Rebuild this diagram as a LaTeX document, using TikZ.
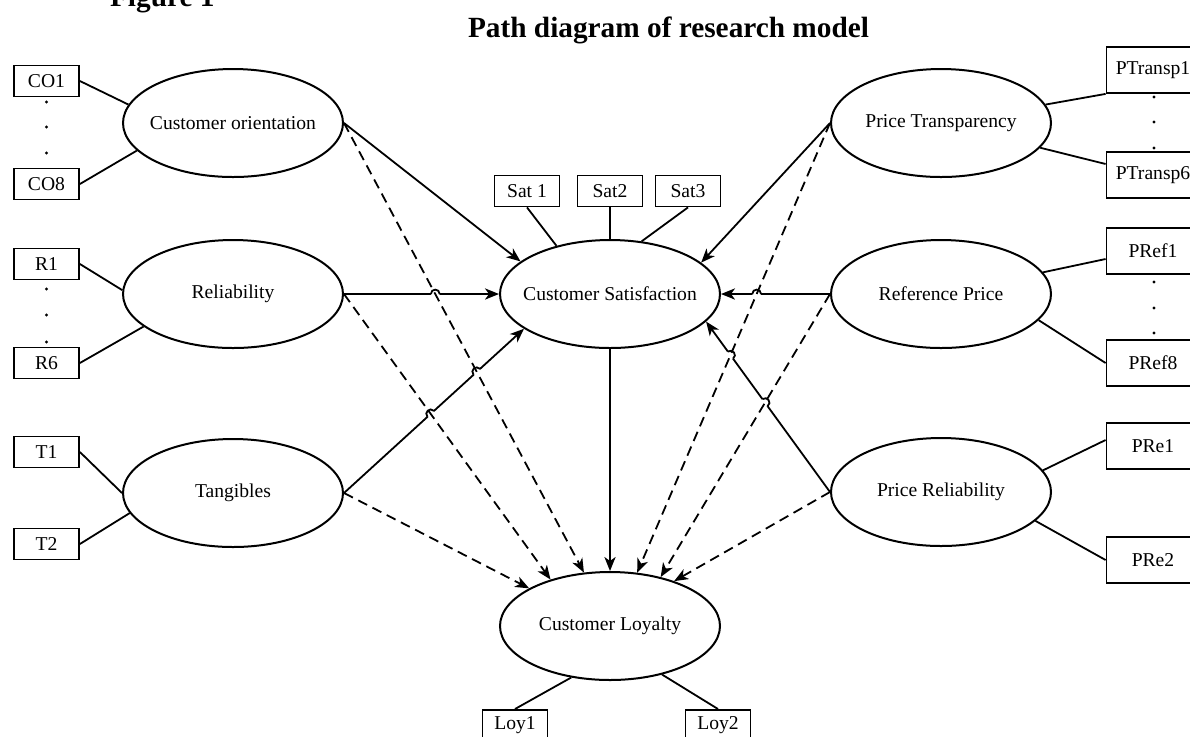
\documentclass[tikz,border=0pt]{standalone}
\usepackage{fontspec}
\setmainfont{Liberation Serif}
\usetikzlibrary{shapes.geometric,arrows.meta,calc,intersections}

\tikzset{
  latent/.style={ellipse, draw, line width=1pt, minimum width=110pt, minimum height=54pt, inner sep=0pt, font=\fontsize{9.8}{11}\selectfont},
  indic/.style={draw, line width=0.9pt, minimum width=32.5pt, minimum height=15.5pt, inner sep=0pt, font=\fontsize{9.8}{11}\selectfont},
  indicr/.style={indic, minimum width=46.5pt, minimum height=23pt},
  load/.style={line width=0.9pt},
  effect/.style={line width=0.9pt, -{Stealth[length=7pt,width=5.6pt,inset=2pt]}},
  indirect/.style={effect, dash pattern=on 5pt off 3pt},
}

% label that does not widen the ellipse
\newcommand{\lv}[1]{\makebox[0pt]{#1}}

% hop of a solid path over a dashed one
\newcommand{\hop}[4]{%
  \path[name intersections={of=#1 and #2, by=hp}];
  \fill[white] (hp) circle (2.2pt);
  \draw[load] ($(hp)!2.2pt!(#3)$) to[bend left=90, looseness=1.7] ($(hp)!2.2pt!(#4)$);
}

\begin{document}
\begin{tikzpicture}[x=0.5pt, y=-0.5pt]
	\useasboundingbox (0,0) rectangle (1190,736);
	
	\node[anchor=base west, font=\fontsize{14.65}{17}\selectfont\bfseries] (fig) at (103,6) {Figure 1};
	\node[anchor=base west, font=\fontsize{14.65}{17}\selectfont\bfseries] (title) at (461,37) {Path diagram of research model};
	
	% latent variables
	\node[latent] (co) at (233,123) {\lv{Customer orientation}};
	\node[latent] (rel) at (233,294) {\lv{Reliability}};
	\node[latent] (tang) at (233,493) {\lv{Tangibles}};
	\node[latent] (sat) at (610,294) {\lv{Customer Satisfaction}};
	\node[latent] (loy) at (610,626) {\lv{Customer Loyalty}};
	\node[latent] (pt) at (941,123) {\lv{Price Transparency}};
	\node[latent] (rp) at (941,294) {\lv{Reference Price}};
	\node[latent] (pr) at (941,492) {\lv{Price Reliability}};
	
	% indicators
	\node[indic] (co1) at (46.5,81) {CO1};
	\node[indic] (co8) at (46.5,184) {CO8};
	\node[indic] (r1) at (46.5,264) {R1};
	\node[indic] (r6) at (46.5,363) {R6};
	\node[indic] (t1) at (46.5,452) {T1};
	\node[indic] (t2) at (46.5,544) {T2};
	\node[indic] (s1) at (527,191) {Sat 1};
	\node[indic] (s2) at (610,191) {Sat2};
	\node[indic] (s3) at (688,191) {Sat3};
	\node[indic, anchor=north] (l1) at (515,709) {Loy1};
	\node[indic, anchor=north] (l2) at (718,709) {Loy2};
	\node[indicr] (ptr1) at (1153,70) {PTransp1};
	\node[indicr] (ptr6) at (1153,175) {PTransp6};
	\node[indicr] (pref1) at (1153,251) {PRef1};
	\node[indicr] (pref8) at (1153,363) {PRef8};
	\node[indicr] (pre1) at (1153,446) {PRe1};
	\node[indicr] (pre2) at (1153,560) {PRe2};
	
	\foreach \y in {102,127,153} \fill (46.5,\y) circle (0.8pt);
	\foreach \y in {289,315,342} \fill (46.5,\y) circle (0.8pt);
	\foreach \y in {97,122,148} \fill (1154,\y) circle (0.8pt);
	\foreach \y in {282,308,333} \fill (1154,\y) circle (0.8pt);
	
	% loadings
	\draw[load] (co1.east) -- (co.170);
	\draw[load] (co8.east) -- (co.196);
	\draw[load] (r1.east) -- (rel.178);
	\draw[load] (r6.east) -- (rel.200);
	\draw[load] (t1.east) -- (tang.west);
	\draw[load] (t2.east) -- (tang.191);
	\draw[load] (s1.south) -- (sat.138);
	\draw[load] (s2.south) -- (sat.north);
	\draw[load] (s3.south) -- (sat.59);
	\draw[load] (loy.233) -- (l1.north);
	\draw[load] (loy.317) -- (l2.north);
	\draw[load] (pt.10) -- (ptr1.south west);
	\draw[load] (pt.346) -- ([yshift=5.5pt]ptr6.west);
	\draw[load] (rp.12) -- ([yshift=-4pt]pref1.west);
	\draw[load] (rp.345) -- (pref8.west);
	\draw[load] (pr.12) -- ([yshift=3pt]pre1.west);
	\draw[load] (pr.343) -- (pre2.west);
	
	% direct effects
	\draw[effect, name path=cs] (co.east) -- (sat.160);
	\draw[effect, name path=rs] (rel.east) -- (sat.west);
	\draw[effect, name path=ts] (tang.east) -- (sat.202);
	\draw[effect, name path=ps] (pt.west) -- (sat.19);
	\draw[effect, name path=qs] (rp.west) -- (sat.east);
	\draw[effect, name path=ws] (pr.west) -- (sat.344);
	\draw[effect] (sat.south) -- (loy.north);
	
	% paths to loyalty
	\path[name path=cl] (co.east) -- (loy.116);
	\path[name path=rl] (rel.east) -- (loy.142);
	\path[name path=tl] (tang.east) -- (loy.155);
	\path[name path=pl] (pt.west) -- (loy.63);
	\path[name path=ql] (rp.west) -- (loy.44);
	\path[name path=wl] (pr.west) -- (loy.35);
	
	\hop{rs}{cl}{rel.east}{sat.west}
	\hop{ts}{rl}{tang.east}{sat.202}
	\hop{ts}{cl}{tang.east}{sat.202}
	\hop{qs}{pl}{sat.east}{rp.west}
	\hop{ws}{pl}{sat.344}{pr.west}
	\hop{ws}{ql}{sat.344}{pr.west}
	
	\draw[indirect] (co.east) -- (loy.116);
	\draw[indirect] (rel.east) -- (loy.142);
	\draw[indirect] (tang.east) -- (loy.155);
	\draw[indirect] (pt.west) -- (loy.63);
	\draw[indirect] (rp.west) -- (loy.44);
	\draw[indirect] (pr.west) -- (loy.35);
\end{tikzpicture}
\end{document}
